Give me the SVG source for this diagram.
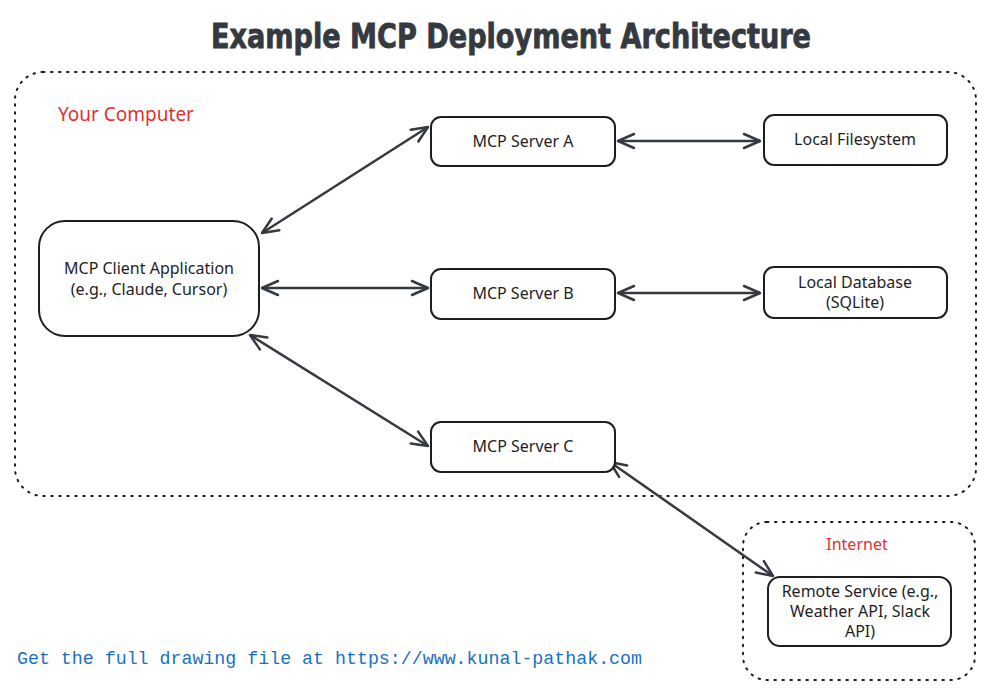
<svg xmlns="http://www.w3.org/2000/svg" width="992" height="697" viewBox="0 0 992 697">
<style>
.box{fill:#ffffff;stroke:#1e1e1e;stroke-width:2}
.zone{fill:none;stroke:#1e1e1e;stroke-width:2;stroke-dasharray:1.5 6.5;stroke-linecap:round}
.lbl{font-family:"Noto Sans","Liberation Sans",sans-serif;font-size:16px;fill:#1e1e1e;text-anchor:middle}
.red{font-family:"Noto Sans","Liberation Sans",sans-serif;fill:#e03131}
.conn{stroke:#343a40;stroke-width:2.5;fill:none;marker-start:url(#ah);marker-end:url(#ah)}
</style>
<defs>
<marker id="ah" viewBox="-19 -10 21 20" refX="0" refY="0" markerWidth="21" markerHeight="20" markerUnits="userSpaceOnUse" orient="auto-start-reverse">
<path d="M-16,-7 L0,0 L-16,7" fill="none" stroke="#343a40" stroke-width="2.5" stroke-linecap="round" stroke-linejoin="round"/>
</marker>
</defs>
<rect width="992" height="697" fill="#ffffff"/>
<text x="511" y="48" font-family="DejaVu Sans Condensed,DejaVu Sans,sans-serif" font-weight="bold" font-size="34" fill="#343a40" stroke="#343a40" stroke-width="0.8" text-anchor="middle" textLength="600" lengthAdjust="spacingAndGlyphs">Example MCP Deployment Architecture</text>

<g id="your-computer">
<rect class="zone" x="15" y="72" width="961" height="424" rx="28"/>
<text class="red" x="58" y="121" font-size="19">Your Computer</text>
</g>
<g id="internet">
<rect class="zone" x="743" y="522" width="232" height="158" rx="24"/>
<text class="red" x="857" y="550" font-size="16" text-anchor="middle">Internet</text>
</g>

<g id="connectors">
<line class="conn" x1="262" y1="233" x2="428" y2="127"/>
<line class="conn" x1="262" y1="288" x2="428" y2="288"/>
<line class="conn" x1="250" y1="335" x2="428" y2="446"/>
<line class="conn" x1="618" y1="141" x2="760" y2="141"/>
<line class="conn" x1="618" y1="293" x2="760" y2="293"/>
<line class="conn" x1="610" y1="462" x2="773" y2="576"/>
</g>

<g id="client">
<rect class="box" x="39" y="221" width="220" height="115" rx="26"/>
<text class="lbl" x="149" y="274">MCP Client Application</text>
<text class="lbl" x="149" y="295">(e.g., Claude, Cursor)</text>
</g>
<g id="server-a">
<rect class="box" x="431" y="117" width="184" height="49" rx="10"/>
<text class="lbl" x="523" y="147">MCP Server A</text>
</g>
<g id="server-b">
<rect class="box" x="431" y="269" width="184" height="50" rx="10"/>
<text class="lbl" x="523" y="299">MCP Server B</text>
</g>
<g id="server-c">
<rect class="box" x="431" y="422" width="184" height="50" rx="10"/>
<text class="lbl" x="523" y="452">MCP Server C</text>
</g>
<g id="filesystem">
<rect class="box" x="764" y="115" width="183" height="50" rx="10"/>
<text class="lbl" x="855" y="145">Local Filesystem</text>
</g>
<g id="database">
<rect class="box" x="764" y="267" width="183" height="51" rx="10"/>
<text class="lbl" x="855" y="288">Local Database</text>
<text class="lbl" x="855" y="308">(SQLite)</text>
</g>
<g id="remote">
<rect class="box" x="768" y="577" width="183" height="69" rx="12"/>
<text class="lbl" x="860" y="597">Remote Service (e.g.,</text>
<text class="lbl" x="860" y="617">Weather API, Slack</text>
<text class="lbl" x="860" y="637">API)</text>
</g>

<text x="17" y="664" font-family="Liberation Mono,monospace" font-size="18" fill="#1971c2" textLength="625" lengthAdjust="spacingAndGlyphs">Get the full drawing file at https://www.kunal-pathak.com</text>
</svg>
